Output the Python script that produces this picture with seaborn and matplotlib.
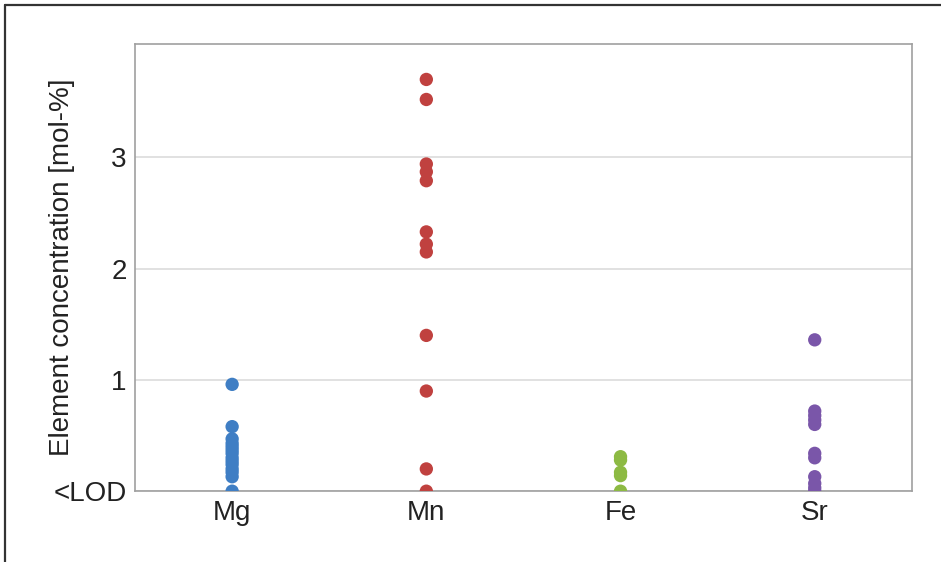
import matplotlib
matplotlib.use("Agg")
import matplotlib.pyplot as plt
from matplotlib.lines import Line2D
import seaborn as sns
import pandas as pd

# Measured element concentrations (mol-%); 0 marks values below detection limit
elements = ["Mg", "Mn", "Fe", "Sr"]
mg_values = [0.96, 0.58, 0.47, 0.43, 0.40, 0.37, 0.34, 0.30, 0.27, 0.24, 0.20, 0.17, 0.13, 0.0]
mn_values = [3.70, 3.52, 2.94, 2.87, 2.79, 2.33, 2.22, 2.15, 1.40, 0.90, 0.20, 0.0]
fe_values = [0.31, 0.28, 0.17, 0.14, 0.0]
sr_values = [1.36, 0.72, 0.68, 0.64, 0.60, 0.34, 0.30, 0.13, 0.07, 0.03, 0.0]
colors = ["#3F7EC4", "#C0413F", "#8DBA43", "#7A56A9"]
ytick_values = [0, 1, 2, 3]
ytick_labels = ["<LOD", "1", "2", "3"]

records = []
for name, vals in zip(elements, [mg_values, mn_values, fe_values, sr_values]):
    for v in vals:
        records.append({"element": name, "conc": v})
df = pd.DataFrame(records)

sns.set_theme(style="whitegrid")
plt.rcParams["font.family"] = ["Liberation Sans", "DejaVu Sans"]

fig = plt.figure(figsize=(9.41, 5.62), dpi=100)
ax = fig.add_axes([0.1435, 0.126, 0.8255, 0.796])

sns.stripplot(data=df, x="element", y="conc", hue="element", order=elements,
              hue_order=elements, palette=colors, jitter=False, size=9.6,
              linewidth=0, legend=False, ax=ax, zorder=3)

ax.set_xlim(-0.5, 3.5)
ax.set_ylim(0, 4.02)
ax.set_yticks(ytick_values)
ax.set_yticklabels(ytick_labels)
ax.set_xlabel("")
ax.set_ylabel("Element concentration [mol-%]", fontsize=20, color="#222222")
ax.yaxis.set_label_coords(-0.077, 0.5)
ax.tick_params(axis="both", labelsize=20, colors="#222222", length=0, pad=6)
ax.grid(axis="x", visible=False)
ax.grid(axis="y", color="#d9d9d9", linewidth=1.1)
for sp in ax.spines.values():
    sp.set_color("#a0a0a0")
    sp.set_linewidth(1.2)

# outer frame on the left and top of the figure
fig.add_artist(Line2D([5 / 941, 5 / 941], [0, 1 - 5 / 562], transform=fig.transFigure,
                      color="#333333", linewidth=1.6))
fig.add_artist(Line2D([5 / 941, 1], [1 - 5 / 562, 1 - 5 / 562], transform=fig.transFigure,
                      color="#333333", linewidth=1.6))

fig.savefig("out.png", dpi=100, facecolor="white")
